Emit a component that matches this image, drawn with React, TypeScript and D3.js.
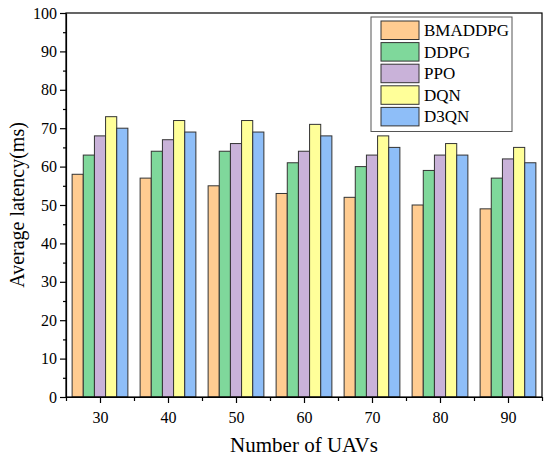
import { useEffect, useRef } from "react";
import { axisBottom, axisLeft, range, scaleBand, scaleLinear, select } from "d3";

const categories = [30, 40, 50, 60, 70, 80, 90];
const seriesNames = ["BMADDPG", "DDPG", "PPO", "DQN", "D3QN"];
const seriesColors = ["#FFCC91", "#7FD89B", "#C9B2D9", "#FFFF99", "#8EBEF8"];

const bmaddpg = [58, 57, 55, 53, 52, 50, 49];
const ddpg = [63, 64, 64, 61, 60, 59, 57];
const ppo = [68, 67, 66, 64, 63, 63, 62];
const dqn = [73, 72, 72, 71, 68, 66, 65];
const d3qn = [70, 69, 69, 68, 65, 63, 61];
const seriesValues = [bmaddpg, ddpg, ppo, dqn, d3qn];

const yTicks = [0, 10, 20, 30, 40, 50, 60, 70, 80, 90, 100];

const W = 550;
const H = 459;
const margin = { top: 13, right: 8, bottom: 62, left: 66 };
const FONT = "'Liberation Serif', 'Times New Roman', serif";

function AxisLeft({ scale }: { scale: any }) {
    const ref = useRef<SVGGElement>(null);
    useEffect(() => {
        if (!ref.current) return;
        const g = select(ref.current);
        g.selectAll("*").remove();
        g.append("g")
            .call(axisLeft(scale).tickValues(range(5, 100, 10)).tickSize(3).tickFormat(() => ""))
            .call((s) => s.select(".domain").remove());
        g.append("g")
            .call(axisLeft(scale).tickValues(yTicks).tickSize(6).tickSizeOuter(0).tickPadding(3))
            .call((s) => s.selectAll("text").attr("font-size", 16).attr("font-family", FONT).attr("fill", "#000"));
        g.selectAll("line, path").attr("stroke", "#000").attr("stroke-width", 1.2);
    }, [scale]);
    return <g ref={ref} />;
}

function AxisBottom({ scale, height }: { scale: any; height: number }) {
    const ref = useRef<SVGGElement>(null);
    useEffect(() => {
        if (!ref.current) return;
        const g = select(ref.current);
        g.selectAll("*").remove();
        g.append("g")
            .call(axisBottom(scale).tickValues(range(25, 100, 10)).tickSize(4).tickFormat(() => ""))
            .call((s) => s.select(".domain").remove());
        g.append("g")
            .call(axisBottom(scale).tickValues(categories).tickSize(6).tickSizeOuter(0).tickPadding(9).tickFormat((d: any) => `${d}`))
            .call((s) => s.selectAll("text").attr("font-size", 16).attr("font-family", FONT).attr("fill", "#000"));
        g.selectAll("line, path").attr("stroke", "#000").attr("stroke-width", 1.2);
    }, [scale]);
    return <g ref={ref} transform={`translate(0, ${height})`} />;
}

export default function App() {
    const width = W - margin.left - margin.right;
    const height = H - margin.top - margin.bottom;

    const x = scaleLinear().domain([25, 95]).range([0, width]);
    const y = scaleLinear().domain([0, 100]).range([height, 0]);
    const groupWidth = (x(35) - x(25)) * 0.82;
    const inner = scaleBand<number>()
        .domain(range(seriesNames.length))
        .range([-groupWidth / 2, groupWidth / 2]);

    const lx = 371 - margin.left;
    const ly = 17 - margin.top;
    const rowH = 21.6;

    return (
        <svg width={W} height={H} style={{ position: "absolute", left: 0, top: 0 }} fontFamily={FONT}>
            <rect width={W} height={H} fill="#fff" />
            <g transform={`translate(${margin.left}, ${margin.top})`}>
                {seriesValues.map((vals, si) =>
                    vals.map((v, ci) => (
                        <rect
                            key={`${si}-${ci}`}
                            x={x(categories[ci]) + (inner(si) ?? 0)}
                            y={y(v)}
                            width={inner.bandwidth()}
                            height={height - y(v)}
                            fill={seriesColors[si]}
                            stroke="#333"
                            strokeWidth={1}
                        />
                    ))
                )}
                <rect x={0} y={0} width={width} height={height} fill="none" stroke="#000" strokeWidth={1.2} />
                <AxisLeft scale={y} />
                <AxisBottom scale={x} height={height} />
                <g transform={`translate(${lx}, ${ly})`}>
                    <rect x={0} y={0} width={141} height={114.5} fill="#fff" stroke="#555" strokeWidth={1} />
                    {seriesNames.map((name, i) => (
                        <g key={name} transform={`translate(10, ${4 + i * rowH})`}>
                            <rect x={0} y={0} width={38} height={18.5} fill={seriesColors[i]} stroke="#333" strokeWidth={1} />
                            <text x={43} y={15} fontSize={17} fill="#000">{name}</text>
                        </g>
                    ))}
                </g>
            </g>
            <text
                transform={`translate(24, ${margin.top + height / 2}) rotate(-90)`}
                textAnchor="middle"
                fontSize={20}
                fill="#000"
            >
                Average latency(ms)
            </text>
            <text x={margin.left + width / 2} y={452} textAnchor="middle" fontSize={21} fill="#000">
                Number of UAVs
            </text>
        </svg>
    );
}
